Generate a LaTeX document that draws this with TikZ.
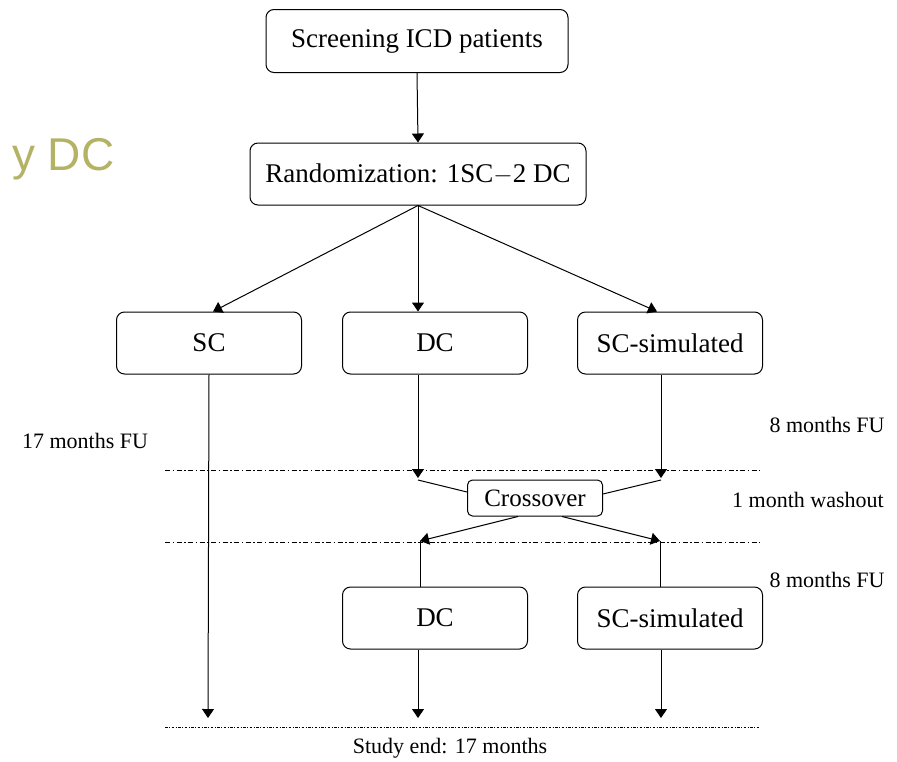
\documentclass[tikz,border=0pt]{standalone}
\usepackage{fontspec}
\setmainfont{Liberation Serif}
\newfontfamily\slidefont{Liberation Sans}
\usetikzlibrary{arrows.meta}
\definecolor{olive}{RGB}{180,178,100}
\tikzset{
  box/.style={draw, line width=1pt, rounded corners=8pt, align=center,
              font=\fontsize{27}{30}\selectfont, minimum width=185pt, minimum height=62pt, inner sep=3pt},
  arr/.style={-{Triangle[length=9pt,width=12pt]}, line width=1pt},
  lnk/.style={line width=1pt},
  sep/.style={line width=1pt, dash pattern=on 5pt off 2.5pt on 1.5pt off 2.5pt},
  endsep/.style={line width=1pt, dash pattern=on 2.5pt off 1.5pt on 1pt off 1.5pt},
  note/.style={font=\fontsize{22}{24}\selectfont}
}

\begin{document}
\begin{tikzpicture}[x=1pt, y=-1pt]
    \useasboundingbox (0,0) rectangle (897,761);
    \node[anchor=base west, text=olive, font=\slidefont\fontsize{46}{50}\selectfont, inner sep=0pt] (slide) at (12,170) {y DC};

    \node[box, minimum width=302pt, minimum height=63pt] (scr) at (417,41) {Screening ICD patients};
    \node[box, minimum width=336pt] (rand) at (418,174) {Randomization: 1SC$-$2 DC};
    \node[box] (sc) at (209,343) {SC};
    \node[box] (dc) at (435,343) {DC};
    \node[box] (scs) at (670,343) {SC-simulated};
    \node[box, minimum width=135pt, minimum height=36pt, rounded corners=5pt,
          font=\fontsize{25}{28}\selectfont] (cross) at (535,498) {Crossover};
    \node[box] (dc2) at (435,618) {DC};
    \node[box] (scs2) at (670,618) {SC-simulated};

    % phase boundaries
    \draw[sep] (165,470) -- (760,470);
    \draw[sep] (165,542) -- (760,542);
    \draw[endsep] (165,727) -- (760,727);

    \coordinate (dcin) at (418,478);
    \coordinate (scsin) at (661,478);
    \coordinate (dcout) at (420,541);
    \coordinate (scsout) at (660,541);
    \coordinate (scend) at (208,718);
    \coordinate (dcend) at (418,718);
    \coordinate (scsend) at (661,718);

    \draw[arr] (scr.south) -- (rand.north);
    \draw[arr] (rand.south) -- ([xshift=4pt]sc.north);
    \draw[arr] (rand.south) -- ([xshift=-17pt]dc.north);
    \draw[arr] (rand.south) -- ([xshift=-13pt]scs.north);

    \draw[arr] (sc.south) -- (scend);
    \draw[arr] (dcin |- dc.south) -- (dcin);
    \draw[arr] (scsin |- scs.south) -- (scsin);

    \draw[lnk] ([yshift=-2pt]dcin) -- ([yshift=6pt]cross.west);
    \draw[lnk] ([yshift=-2pt]scsin) -- ([yshift=4pt]cross.east);
    \draw[arr] ([xshift=-17pt]cross.south) -- (dcout);
    \draw[arr] ([xshift=27pt]cross.south) -- (scsout);
    \draw[lnk] (dcout) -- (dcout |- dc2.north);
    \draw[lnk] (scsout) -- (scsout |- scs2.north);

    \draw[arr] (dcend |- dc2.south) -- (dcend);
    \draw[arr] (scsend |- scs2.south) -- (scsend);

    \node[note] (fu17) at (85,441) {17 months FU};
    \node[note] (fu8a) at (827,425) {8 months FU};
    \node[note] (wash) at (808,500) {1 month washout};
    \node[note] (fu8b) at (827,580) {8 months FU};
    \node[note] (send) at (450,748) {Study end: 17 months};
\end{tikzpicture}
\end{document}
